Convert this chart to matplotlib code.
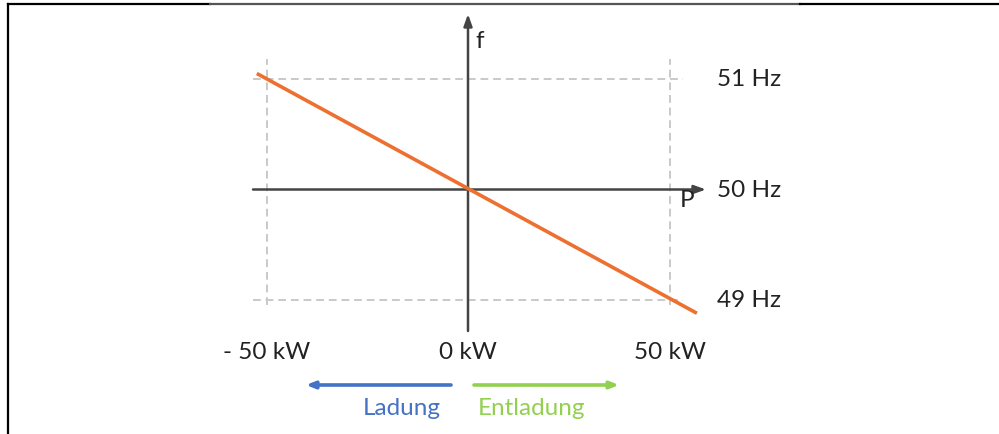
import matplotlib
matplotlib.use("Agg")
import matplotlib.pyplot as plt
from matplotlib.lines import Line2D

# ---- data ----
line_p = [-52.4, 56.8]          # kW
line_f = [51.05, 48.88]         # Hz
x_ticks = [-50, 0, 50]
x_tick_labels = ["- 50 kW", "0 kW", "50 kW"]
y_ticks = [51, 50, 49]
y_tick_labels = ["51 Hz", "50 Hz", "49 Hz"]
dir_labels = ["Ladung", "Entladung"]

W, H = 999, 435
fig = plt.figure(figsize=(W / 100, H / 100), dpi=100)
ax = fig.add_axes([0, 0, 1, 1])
ax.set_axis_off()

# pixel mapping: x_px = 468 + 4.03*P ; y_px = 190.5 - 110.5*(f-50)
sx, x0 = 4.03, 468.0
sy, y0 = 110.5, 190.5
ax.set_xlim(-x0 / sx, (W - x0) / sx)
ax.set_ylim(50 - (H - y0) / sy, 50 + y0 / sy)

def px_to_p(px):
    return (px - x0) / sx

def py_to_f(py):
    return 50 - (py - y0) / sy

FONT = "Lato"
TXT = "#222222"
FS = 17.5

# dashed guides
dash_col = "#c9c9c9"
for f in (y_ticks[0], y_ticks[2]):
    ax.plot([px_to_p(253), px_to_p(683)], [f, f], color=dash_col, lw=1.4,
            ls=(0, (4, 2.5)), zorder=1)
for p in (x_ticks[0], x_ticks[2]):
    ax.plot([p, p], [py_to_f(306), py_to_f(60)], color=dash_col, lw=1.4,
            ls=(0, (4, 2.5)), zorder=1)

# axes with arrows
axcol = "#444444"
ax.annotate("", xy=(px_to_p(706), 50), xytext=(px_to_p(253), 50),
            arrowprops=dict(arrowstyle="-|>,head_length=0.7,head_width=0.25",
                            color=axcol, lw=1.8, shrinkA=0, shrinkB=0), zorder=2)
ax.annotate("", xy=(0, py_to_f(15)), xytext=(0, py_to_f(332)),
            arrowprops=dict(arrowstyle="-|>,head_length=0.7,head_width=0.25",
                            color=axcol, lw=1.8, shrinkA=0, shrinkB=0), zorder=2)

# droop line
ax.plot(line_p, line_f, color="#ED7030", lw=2.6, solid_capstyle="butt", zorder=3)

# axis names
ax.text(px_to_p(475), py_to_f(42), "f", fontsize=FS, family=FONT, color=TXT,
        ha="left", va="center")
ax.text(px_to_p(680), py_to_f(201), "P", fontsize=FS, family=FONT, color=TXT,
        ha="left", va="center")

# y labels
for f, lab in zip(y_ticks, y_tick_labels):
    ax.text(px_to_p(717), f, lab, fontsize=FS, family=FONT, color=TXT,
            ha="left", va="center")

# x labels
for p, lab in zip(x_ticks, x_tick_labels):
    ax.text(p, py_to_f(353), lab, fontsize=FS, family=FONT, color=TXT,
            ha="center", va="center")

# direction arrows
blue, green = "#4472C4", "#92D050"
ax.annotate("", xy=(px_to_p(306), py_to_f(386)), xytext=(px_to_p(451), py_to_f(386)),
            arrowprops=dict(arrowstyle="-|>,head_length=0.5,head_width=0.2",
                            color=blue, lw=2.6, shrinkA=0, shrinkB=0))
ax.annotate("", xy=(px_to_p(619), py_to_f(386)), xytext=(px_to_p(474), py_to_f(386)),
            arrowprops=dict(arrowstyle="-|>,head_length=0.5,head_width=0.2",
                            color=green, lw=2.6, shrinkA=0, shrinkB=0))
ax.text(px_to_p(402), py_to_f(409), dir_labels[0], fontsize=FS, family=FONT,
        color=blue, ha="center", va="center")
ax.text(px_to_p(531), py_to_f(409), dir_labels[1], fontsize=FS, family=FONT,
        color=green, ha="center", va="center")

# frame lines (figure pixel coords)
def fx(px):
    return px / W

def fy(py):
    return 1 - py / H

fig.add_artist(Line2D([fx(8), fx(210)], [fy(5), fy(5)], color="black", lw=1.6))
fig.add_artist(Line2D([fx(210), fx(800)], [fy(5), fy(5)], color="#555555", lw=1.6))
fig.add_artist(Line2D([fx(800), fx(998)], [fy(5), fy(5)], color="black", lw=1.6))
fig.add_artist(Line2D([fx(8), fx(8)], [fy(5), fy(435)], color="black", lw=1.6))

fig.savefig("out.png", dpi=100)
